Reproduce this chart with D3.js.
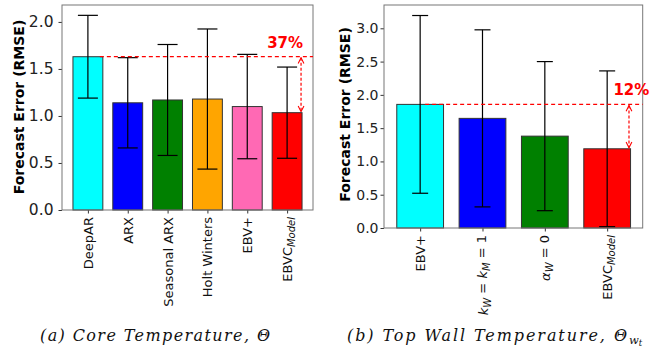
<!DOCTYPE html>
<html>
<head>
<meta charset="utf-8">
<script src="https://cdn.jsdelivr.net/npm/d3@7"></script>
<style>
  body { margin: 0; background: #fff; }
</style>
</head>
<body>
<div id="chart"></div>
<script>
// (a) core temperature
const methodsA = [
  [{t: 'DeepAR'}],
  [{t: 'ARX'}],
  [{t: 'Seasonal ARX'}],
  [{t: 'Holt Winters'}],
  [{t: 'EBV+'}],
  [{t: 'EBVC'}, {t: 'Model', sub: true, it: true}]
];
const rmseA = [1.63, 1.14, 1.17, 1.18, 1.10, 1.035];
const errA = [0.44, 0.48, 0.59, 0.745, 0.555, 0.485];
const colorsA = ['#00ffff', '#0000ff', '#008000', '#ffa500', '#ff69b4', '#ff0000'];
const ticksA = [0, 0.5, 1.0, 1.5, 2.0];

// (b) top wall temperature
const methodsB = [
  [{t: 'EBV+'}],
  [{t: 'k', it: true}, {t: 'W', sub: true, it: true}, {t: ' = '}, {t: 'k', it: true}, {t: 'M', sub: true, it: true}, {t: ' = 1'}],
  [{t: 'α', it: true}, {t: 'W', sub: true, it: true}, {t: ' = 0'}],
  [{t: 'EBVC'}, {t: 'Model', sub: true, it: true}]
];
const rmseB = [1.857, 1.647, 1.38, 1.19];
const errB = [1.335, 1.33, 1.12, 1.17];
const colorsB = ['#00ffff', '#0000ff', '#008000', '#ff0000'];
const ticksB = [0, 0.5, 1.0, 1.5, 2.0, 2.5, 3.0];

const W = 650, H = 352;
const SANS = '"DejaVu Sans", sans-serif';
const svg = d3.select('#chart').append('svg').attr('width', W).attr('height', H);

const defs = svg.append('defs');
defs.append('marker').attr('id', 'ah').attr('viewBox', '0 0 10 10')
  .attr('refX', 9).attr('refY', 5).attr('markerWidth', 6).attr('markerHeight', 6)
  .attr('orient', 'auto-start-reverse')
  .append('path').attr('d', 'M1,1 L9,5 L1,9').attr('fill', 'none').attr('stroke', '#ff0000').attr('stroke-width', 1.5);

function drawPanel(cfg) {
  const x = d3.scaleLinear().domain(cfg.xdom).range([cfg.left, cfg.right]);
  const y = d3.scaleLinear().domain(cfg.ydom).range([cfg.bottom, cfg.top]);
  const g = svg.append('g');
  const n = cfg.vals.length;
  const bw = x(0.375) - x(0);

  // bars
  g.selectAll('rect.bar').data(cfg.vals).enter().append('rect')
    .attr('x', (d, i) => x(i) - bw)
    .attr('width', bw * 2)
    .attr('y', d => y(d))
    .attr('height', d => y(0) - y(d))
    .attr('fill', (d, i) => cfg.colors[i])
    .attr('stroke', '#333').attr('stroke-width', 1);

  // error bars
  const eb = g.selectAll('g.eb').data(cfg.vals).enter().append('g');
  eb.append('line')
    .attr('x1', (d, i) => x(i)).attr('x2', (d, i) => x(i))
    .attr('y1', (d, i) => y(d - cfg.errs[i])).attr('y2', (d, i) => y(d + cfg.errs[i]))
    .attr('stroke', '#000').attr('stroke-width', 1.2);
  [-1, 1].forEach(s => {
    eb.append('line')
      .attr('x1', (d, i) => x(i) - cfg.cap).attr('x2', (d, i) => x(i) + cfg.cap)
      .attr('y1', (d, i) => y(d + s * cfg.errs[i])).attr('y2', (d, i) => y(d + s * cfg.errs[i]))
      .attr('stroke', '#000').attr('stroke-width', 1.2);
  });

  // y axis
  const ya = g.append('g').attr('transform', 'translate(' + cfg.left + ',0)')
    .call(d3.axisLeft(y).tickValues(cfg.ticks).tickFormat(d3.format('.1f')).tickSize(3.5).tickPadding(cfg.tpad));
  ya.attr('font-family', null).attr('font-size', null);
  ya.select('.domain').remove();
  ya.selectAll('.tick line').attr('stroke', '#333');
  ya.selectAll('.tick text').style('font-family', SANS).style('font-size', cfg.tfs + 'px').attr('fill', '#222');

  // x axis
  const xa = g.append('g').attr('transform', 'translate(0,' + cfg.bottom + ')')
    .call(d3.axisBottom(x).tickValues(d3.range(n)).tickSize(3.5).tickFormat(''));
  xa.attr('font-family', null).attr('font-size', null);
  xa.select('.domain').remove();
  xa.selectAll('.tick line').attr('stroke', '#333');
  xa.selectAll('.tick').each(function (d) {
    const t = d3.select(this).append('text')
      .attr('transform', 'rotate(-90)').attr('x', -7).attr('dy', '0.35em')
      .attr('text-anchor', 'end').attr('fill', '#111')
      .style('font-family', SANS).style('font-size', '13px');
    cfg.labels[d].forEach((seg, k) => {
      const ts = t.append('tspan').text(seg.t);
      if (seg.it) ts.style('font-style', 'italic');
      if (seg.sub) ts.style('font-size', '10px').attr('dy', '0.3em');
      else if (k > 0 && cfg.labels[d][k - 1].sub) ts.attr('dy', '-0.3em');
    });
  });

  // frame
  g.append('rect').attr('x', cfg.left).attr('y', cfg.top)
    .attr('width', cfg.right - cfg.left).attr('height', cfg.bottom - cfg.top)
    .attr('fill', 'none').attr('stroke', '#777').attr('stroke-width', 1);

  // y label
  g.append('text')
    .attr('transform', 'translate(' + cfg.ylx + ',' + cfg.ylc + ') rotate(-90)')
    .attr('text-anchor', 'middle').attr('dy', '0.35em')
    .style('font-family', SANS).style('font-size', '14px').style('font-weight', 'bold').attr('fill', '#000')
    .text('Forecast Error (RMSE)');

  // improvement annotation
  const ref = cfg.vals[0], last = cfg.vals[n - 1];
  g.append('line')
    .attr('x1', x(cfg.dashFrom)).attr('x2', cfg.right)
    .attr('y1', y(ref)).attr('y2', y(ref))
    .attr('stroke', '#ff0000').attr('stroke-width', 1.2).attr('stroke-dasharray', '4,3');
  g.append('line')
    .attr('x1', x(cfg.arrowX)).attr('x2', x(cfg.arrowX))
    .attr('y1', y(ref) + 1).attr('y2', y(last) - 1)
    .attr('stroke', '#ff0000').attr('stroke-width', 1.2).attr('stroke-dasharray', '3,2')
    .attr('marker-start', 'url(#ah)').attr('marker-end', 'url(#ah)');
  g.append('text')
    .attr('x', x(cfg.pctPos[0])).attr('y', y(cfg.pctPos[1]))
    .attr('text-anchor', cfg.pctAnchor)
    .style('font-family', SANS).style('font-size', '15px').style('font-weight', 'bold').attr('fill', '#ff0000')
    .text(cfg.pct);
}

drawPanel({
  vals: rmseA, errs: errA, colors: colorsA, labels: methodsA, ticks: ticksA,
  xdom: [-0.65, 5.65], ydom: [0, 2.18],
  left: 62, right: 313, top: 5, bottom: 210,
  cap: 10, tfs: 15.5, tpad: 5, ylx: 19, ylc: 107,
  dashFrom: 0.3, arrowX: 5.35, pct: '37%', pctPos: [4.95, 1.72], pctAnchor: 'middle'
});

drawPanel({
  vals: rmseB, errs: errB, colors: colorsB, labels: methodsB, ticks: ticksB,
  xdom: [-0.58, 3.57], ydom: [0, 3.35],
  left: 384, right: 642.7, top: 5, bottom: 228,
  cap: 8, tfs: 14, tpad: 2, ylx: 345, ylc: 114.5,
  dashFrom: 0.08, arrowX: 3.35, pct: '12%', pctPos: [3.1, 2.0], pctAnchor: 'start'
});

// captions, centred under each panel
const CAPF = '"DejaVu Serif", serif';
svg.append('text').attr('x', 40).attr('y', 341)
  .attr('textLength', 230).attr('lengthAdjust', 'spacing')
  .style('font-family', CAPF).style('font-style', 'italic').style('font-size', '16px').attr('fill', '#111')
  .text('(a) Core Temperature, Θ');
const cb = svg.append('text').attr('x', 347).attr('y', 341)
  .style('font-family', CAPF).style('font-style', 'italic').style('font-size', '16px').attr('fill', '#111');
cb.append('tspan').attr('textLength', 280).attr('lengthAdjust', 'spacing').text('(b) Top Wall Temperature, Θ');
cb.append('tspan').style('font-size', '11.5px').attr('dy', '3').text('w');
cb.append('tspan').style('font-size', '8.5px').attr('dy', '2').text('t');
</script>
</body>
</html>
